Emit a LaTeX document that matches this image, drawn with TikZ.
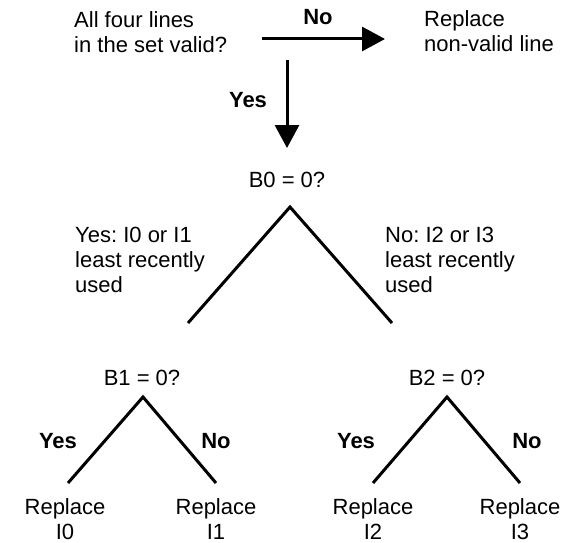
\documentclass[tikz,border=0pt]{standalone}
\usepackage{fontspec}
\setmainfont{Liberation Sans}
\usetikzlibrary{arrows.meta}
\frenchspacing
% two centred lines whose box has the depth of the last line only
\newcommand{\leafstack}[2]{\vtop{\halign{\hfil##\hfil\cr #1\cr #2\cr}}}
\begin{document}
\begin{tikzpicture}[x=1pt,y=-1pt,
  txt/.style={inner sep=0pt,font=\fontsize{22}{25}\selectfont},
  lbl/.style={txt,font=\fontsize{22}{25}\selectfont\bfseries},
  branch/.style={line width=3pt,line join=miter},
  flow/.style={line width=3pt,-{Triangle[length=23pt,width=24pt]}}]
\useasboundingbox (0,0) rectangle (565,543);

% decision: are all lines of the set valid?
\node[txt,anchor=base west] (q) at (74,28)
  {\begin{tabular}[t]{@{}l@{}}All four lines\\in the set valid?\end{tabular}};
\node[txt,anchor=base west] (rep) at (424,27)
  {\begin{tabular}[t]{@{}l@{}}Replace\\non-valid line\end{tabular}};
\node[lbl,anchor=base] (no0) at (318,25) {No};
\node[lbl,anchor=base] (yes0) at (248,107) {Yes};

\coordinate (h0) at (262,39);
\coordinate (h1) at (385,39);
\coordinate (v0) at (287,60);
\coordinate (v1) at (287,148);
\draw[flow] (h0) -- (h1);
\draw[flow] (v0) -- (v1);

% first tree bit
\node[txt,anchor=base] (b0) at (287,187) {B0 = 0?};
\coordinate (t0) at (290,207);
\coordinate (t0l) at (188,323);
\coordinate (t0r) at (392,323);
\draw[branch] (t0l) -- (t0) -- (t0r);
\node[txt,anchor=base west] (lnote) at (75,242)
  {\begin{tabular}[t]{@{}l@{}}Yes: I0 or I1\\least recently\\used\end{tabular}};
\node[txt,anchor=base west] (rnote) at (385,242)
  {\begin{tabular}[t]{@{}l@{}}No: I2 or I3\\least recently\\used\end{tabular}};

% second-level bits
\node[txt,anchor=base] (b1) at (142,385) {B1 = 0?};
\node[txt,anchor=base] (b2) at (447,385) {B2 = 0?};
\coordinate (t1) at (143,397);
\coordinate (t1l) at (68,483);
\coordinate (t1r) at (216,483);
\coordinate (t2) at (447,397);
\coordinate (t2l) at (373,483);
\coordinate (t2r) at (520,483);
\draw[branch] (t1l) -- (t1) -- (t1r);
\draw[branch] (t2l) -- (t2) -- (t2r);

\node[lbl,anchor=base] (y1) at (58,448) {Yes};
\node[lbl,anchor=base] (n1) at (216,448) {No};
\node[lbl,anchor=base] (y2) at (356,448) {Yes};
\node[lbl,anchor=base] (n2) at (527,448) {No};

% replacement leaves
\node[txt,anchor=base] (l0) at (65,514) {\leafstack{Replace}{I0}};
\node[txt,anchor=base] (l1) at (216,514) {\leafstack{Replace}{I1}};
\node[txt,anchor=base] (l2) at (373,514) {\leafstack{Replace}{I2}};
\node[txt,anchor=base] (l3) at (520,514) {\leafstack{Replace}{I3}};
\end{tikzpicture}
\end{document}
